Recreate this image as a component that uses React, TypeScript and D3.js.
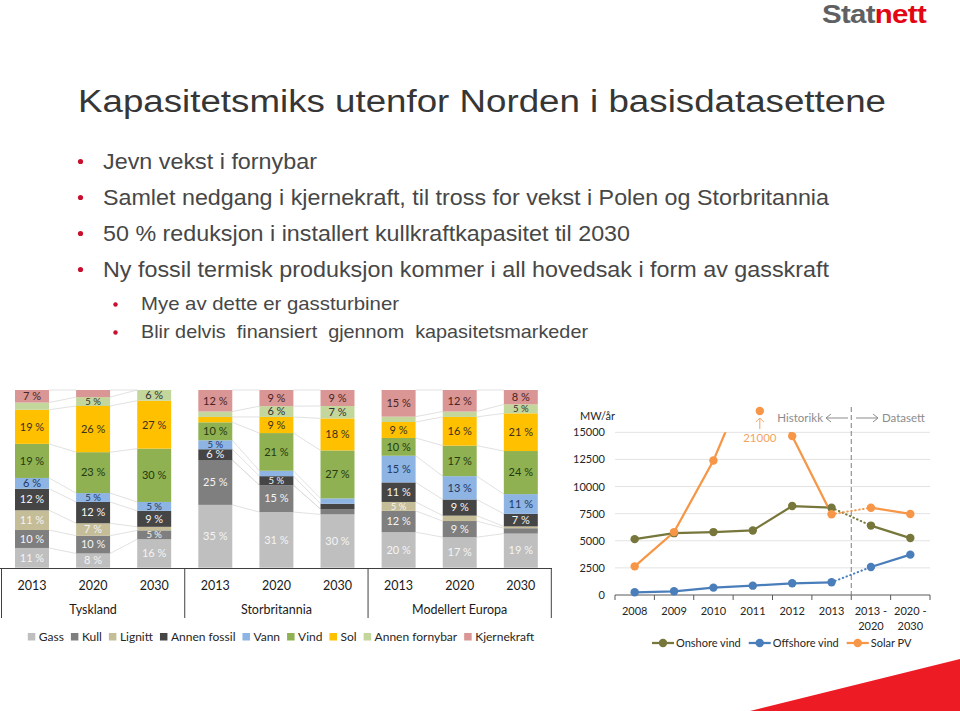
import React, { useEffect, useRef } from "react";
import * as d3 from "d3";

const W = 960;
const H = 711;

// ---------- Data: stacked capacity mix ----------
const sources = ["Gass", "Kull", "Lignitt", "Annen fossil", "Vann", "Vind", "Sol", "Annen fornybar", "Kjernekraft"];
const regions = ["Tyskland", "Storbritannia", "Modellert Europa"];
const years = ["2013", "2020", "2030"];
// order of bars: Tyskland 2013/2020/2030, Storbritannia 2013/2020/2030, Modellert Europa 2013/2020/2030
const gass = [11, 8, 16, 35, 31, 30, 20, 17, 19];
const kull = [10, 10, 5, 25, 15, 3, 12, 9, 3];
const lignitt = [11, 7, 2, 0, 0, 0, 5, 3, 1];
const annenFossil = [12, 12, 9, 6, 5, 3, 11, 9, 7];
const vann = [6, 5, 5, 5, 3, 3, 15, 13, 11];
const vind = [19, 23, 30, 10, 21, 27, 10, 17, 24];
const sol = [19, 26, 27, 3, 9, 18, 9, 16, 21];
const annenFornybar = [4, 5, 6, 3, 6, 7, 3, 3, 5];
const kjernekraft = [7, 4, 0, 12, 9, 9, 15, 12, 8];

const sourceColors = ["#bfbfbf", "#7f7f7f", "#c4bd97", "#454545", "#8db4e2", "#8fb151", "#ffc000", "#c3d69b", "#d99694"];
const labelColors = ["#f4f4f4", "#f4f4f4", "#f4f4f4", "#f4f4f4", "#1f3864", "#233a12", "#3a3020", "#333333", "#4a2323"];

// ---------- Data: annual capacity additions ----------
const periods = ["2008", "2009", "2010", "2011", "2012", "2013", "2013 -|2020", "2020 -|2030"];
const onshoreVind = [5150, 5700, 5800, 5950, 8200, 8050, 6400, 5250];
const offshoreVind = [250, 340, 680, 860, 1080, 1170, 2580, 3720];
const solarPV = [2640, 5800, 12400, 21000, 14650, 7450, 8050, 7470];
const lineSeriesNames = ["Onshore vind", "Offshore vind", "Solar PV"];
const lineColors = ["#77773c", "#4a7ebb", "#f79646"];
const yTicks = [0, 2500, 5000, 7500, 10000, 12500, 15000];

// ---------- Text ----------
const title = "Kapasitetsmiks utenfor Norden i basisdatasettene";
const bullets = [
  "Jevn vekst i fornybar",
  "Samlet nedgang i kjernekraft, til tross for vekst i Polen og Storbritannia",
  "50 % reduksjon i installert kullkraftkapasitet til 2030",
  "Ny fossil termisk produksjon kommer i all hovedsak i form av gasskraft",
];
const subBullets = ["Mye av dette er gassturbiner", "Blir delvis  finansiert  gjennom  kapasitetsmarkeder"];

const CHART_FONT = "Lato, 'Open Sans', sans-serif";
const SLIDE_FONT = "'Liberation Sans', Arial, sans-serif";

export default function App() {
  const ref = useRef<SVGSVGElement | null>(null);

  useEffect(() => {
    const svg = d3.select(ref.current);
    svg.selectAll("*").remove();

    // ---------- Slide header ----------
    const logo = svg.append("text").attr("x", 822).attr("y", 23)
      .attr("font-family", SLIDE_FONT).attr("font-weight", "bold").attr("font-size", 25)
      .attr("letter-spacing", -0.6).attr("textLength", 104).attr("lengthAdjust", "spacingAndGlyphs");
    logo.append("tspan").attr("fill", "#5f6062").text("Stat");
    logo.append("tspan").attr("fill", "#e30613").text("nett");

    svg.append("text").attr("x", 78).attr("y", 112).attr("font-family", SLIDE_FONT)
      .attr("font-size", 31).attr("fill", "#363636")
      .attr("textLength", 808).attr("lengthAdjust", "spacingAndGlyphs").text(title);

    const bulletWidths = [214, 726, 527, 726];
    const bulletY = [169, 205, 241, 277];
    bullets.forEach((b, i) => {
      svg.append("circle").attr("cx", 80.5).attr("cy", bulletY[i] - 7.5).attr("r", 2.6).attr("fill", "#c8102e");
      svg.append("text").attr("x", 103).attr("y", bulletY[i]).attr("font-family", SLIDE_FONT)
        .attr("font-size", 21.5).attr("fill", "#474747")
        .attr("textLength", bulletWidths[i]).attr("lengthAdjust", "spacingAndGlyphs").text(b);
    });
    const subWidths = [258, 447];
    const subY = [310, 338];
    subBullets.forEach((b, i) => {
      svg.append("circle").attr("cx", 115.5).attr("cy", subY[i] - 5.5).attr("r", 2.2).attr("fill", "#c8102e");
      svg.append("text").attr("x", 141).attr("y", subY[i]).attr("font-family", SLIDE_FONT)
        .attr("font-size", 18.5).attr("fill", "#474747").attr("xml:space", "preserve")
        .attr("textLength", subWidths[i]).attr("lengthAdjust", "spacingAndGlyphs").text(b);
    });

    // red corner
    svg.append("path").attr("d", "M750,711 L960,659 L960,711 Z").attr("fill", "#ed1c24");

    // ---------- Stacked bar chart ----------
    const seriesValues = [gass, kull, lignitt, annenFossil, vann, vind, sol, annenFornybar, kjernekraft];
    const barKeys: string[] = [];
    regions.forEach((r) => years.forEach((y) => barKeys.push(r + "|" + y)));
    const table = barKeys.map((k, i) => {
      const row: any = { key: k };
      sources.forEach((s, j) => (row[s] = seriesValues[j][i]));
      return row;
    });
    const stacked = d3.stack().keys(sources).offset(d3.stackOffsetExpand)(table as any);

    const xb = d3.scaleBand().domain(barKeys).range([1.5, 551.3]).paddingInner(0.444).paddingOuter(0.221);
    const yb = d3.scaleLinear().domain([0, 1]).range([567.7, 390]);
    const bw = xb.bandwidth();

    const gBars = svg.append("g");
    // series lines
    stacked.forEach((layer) => {
      for (let i = 0; i < barKeys.length - 1; i++) {
        if (Math.floor(i / 3) !== Math.floor((i + 1) / 3)) continue;
        const y1 = yb(layer[i][1]);
        const y2 = yb(layer[i + 1][1]);
        gBars.append("line")
          .attr("x1", (xb(barKeys[i]) as number) + bw).attr("y1", y1)
          .attr("x2", xb(barKeys[i + 1]) as number).attr("y2", y2)
          .attr("stroke", "#d9d9d9").attr("stroke-width", 0.8);
      }
    });
    stacked.forEach((layer, si) => {
      layer.forEach((d, i) => {
        const h = yb(d[0]) - yb(d[1]);
        if (h <= 0) return;
        gBars.append("rect").attr("x", xb(barKeys[i]) as number).attr("y", yb(d[1]))
          .attr("width", bw).attr("height", h).attr("fill", sourceColors[si]);
      });
    });
    stacked.forEach((layer, si) => {
      layer.forEach((d, i) => {
        const v = seriesValues[si][i];
        if (v < 5) return;
        const h = yb(d[0]) - yb(d[1]);
        const fs = h < 10.5 ? 9.5 : 11;
        gBars.append("text")
          .attr("x", (xb(barKeys[i]) as number) + bw / 2)
          .attr("y", (yb(d[0]) + yb(d[1])) / 2 + fs * 0.35)
          .attr("text-anchor", "middle").attr("font-family", CHART_FONT).attr("font-size", fs)
          .attr("fill", labelColors[si]).text(v + " %");
      });
    });

    // category axis
    const axisY = 568.5;
    gBars.append("line").attr("x1", 0).attr("x2", 552).attr("y1", axisY).attr("y2", axisY)
      .attr("stroke", "#404040").attr("stroke-width", 1);
    const step = xb.step();
    const gap = step - bw;
    const dividers = [1.5, ...regions.slice(1).map((r) => (xb(r + "|" + years[0]) as number) - gap / 2), 551.3];
    dividers.forEach((x) => {
      gBars.append("line").attr("x1", x).attr("x2", x).attr("y1", axisY).attr("y2", 618)
        .attr("stroke", "#404040").attr("stroke-width", 1);
    });
    barKeys.forEach((k) => {
      gBars.append("text").attr("x", (xb(k) as number) + bw / 2).attr("y", 589.5)
        .attr("text-anchor", "middle").attr("font-family", CHART_FONT).attr("font-size", 12.5)
        .attr("fill", "#1a1a1a").text(k.split("|")[1]);
    });
    regions.forEach((r, i) => {
      gBars.append("text").attr("x", (dividers[i] + dividers[i + 1]) / 2).attr("y", 613.5)
        .attr("text-anchor", "middle").attr("font-family", CHART_FONT).attr("font-size", 12.5)
        .attr("fill", "#1a1a1a").text(r);
    });

    // legend
    const legend = gBars.append("g");
    let lx = 0;
    sources.forEach((s, i) => {
      const g = legend.append("g").attr("transform", `translate(${lx},0)`);
      g.append("rect").attr("x", 0).attr("y", -4).attr("width", 7.5).attr("height", 7.5).attr("fill", sourceColors[i]);
      const t = g.append("text").attr("x", 11).attr("y", 4).attr("font-family", CHART_FONT)
        .attr("font-size", 12).attr("fill", "#262626").text(s);
      const tw = (t.node() as SVGTextElement).getComputedTextLength();
      lx += 11 + tw + 7;
    });
    const legendWidth = lx - 7;
    legend.attr("transform", `translate(${281 - legendWidth / 2},637)`);

    // ---------- Line chart ----------
    const xl = d3.scaleBand().domain(periods).range([615, 930]);
    const yl = d3.scaleLinear().domain([0, 15000]).range([595, 432.3]);
    const cx = (p: string) => (xl(p) as number) + xl.bandwidth() / 2;
    const gL = svg.append("g");

    yTicks.forEach((t) => {
      if (t > 0) {
        gL.append("line").attr("x1", 615).attr("x2", 930).attr("y1", yl(t)).attr("y2", yl(t))
          .attr("stroke", "#e3e3e3").attr("stroke-width", 1);
      }
      gL.append("text").attr("x", 605).attr("y", yl(t) + 4).attr("text-anchor", "end")
        .attr("font-family", CHART_FONT).attr("font-size", 11).attr("fill", "#262626").text(t);
    });
    gL.append("text").attr("x", 580).attr("y", 420).attr("font-family", CHART_FONT)
      .attr("font-size", 11).attr("fill", "#262626").text("MW/år");

    gL.append("line").attr("x1", 615).attr("x2", 930).attr("y1", yl(0)).attr("y2", yl(0))
      .attr("stroke", "#595959").attr("stroke-width", 1);
    for (let i = 0; i <= periods.length; i++) {
      const x = 615 + i * xl.step();
      gL.append("line").attr("x1", x).attr("x2", x).attr("y1", yl(0)).attr("y2", yl(0) + 5)
        .attr("stroke", "#595959").attr("stroke-width", 1);
    }
    periods.forEach((p) => {
      const parts = p.split("|");
      parts.forEach((s, j) => {
        gL.append("text").attr("x", cx(p)).attr("y", 615 + j * 14.5).attr("text-anchor", "middle")
          .attr("font-family", CHART_FONT).attr("font-size", 11).attr("fill", "#262626").text(s);
      });
    });

    // separator
    const sepX = 615 + 6 * xl.step();
    gL.append("line").attr("x1", sepX).attr("x2", sepX).attr("y1", 407).attr("y2", 598)
      .attr("stroke", "#7f7f7f").attr("stroke-width", 1).attr("stroke-dasharray", "5,3");
    const annFont = 11.5;
    gL.append("text").attr("x", 823).attr("y", 422).attr("text-anchor", "end").attr("font-family", CHART_FONT)
      .attr("font-size", annFont).attr("fill", "#8c8c8c").text("Historikk");
    gL.append("path").attr("d", `M826,418 L848,418 M831,414 L826,418 L831,422`).attr("fill", "none")
      .attr("stroke", "#8c8c8c").attr("stroke-width", 1);
    gL.append("path").attr("d", `M856,418 L878,418 M873,414 L878,418 L873,422`).attr("fill", "none")
      .attr("stroke", "#8c8c8c").attr("stroke-width", 1);
    gL.append("text").attr("x", 882).attr("y", 422).attr("font-family", CHART_FONT)
      .attr("font-size", annFont).attr("fill", "#8c8c8c").text("Datasett");

    // clip to plot area
    svg.append("defs").append("clipPath").attr("id", "plotClip")
      .append("rect").attr("x", 600).attr("y", yl(15000)).attr("width", 350).attr("height", 200);

    const allSeries = [onshoreVind, offshoreVind, solarPV];
    const lineGen = d3.line<number>().x((_, i) => cx(periods[i])).y((d) => yl(d));
    const gLines = gL.append("g").attr("clip-path", "url(#plotClip)");
    allSeries.forEach((vals, si) => {
      const hist = vals.slice(0, 6);
      gLines.append("path").attr("d", lineGen(hist))
        .attr("fill", "none").attr("stroke", lineColors[si]).attr("stroke-width", 2.25);
      gLines.append("path")
        .attr("d", `M${cx(periods[5])},${yl(vals[5])} L${cx(periods[6])},${yl(vals[6])}`)
        .attr("fill", "none").attr("stroke", lineColors[si]).attr("stroke-width", 2)
        .attr("stroke-dasharray", "0.5,3.5").attr("stroke-linecap", "round");
      gLines.append("path")
        .attr("d", `M${cx(periods[6])},${yl(vals[6])} L${cx(periods[7])},${yl(vals[7])}`)
        .attr("fill", "none").attr("stroke", lineColors[si]).attr("stroke-width", 2.25);
    });
    allSeries.forEach((vals, si) => {
      vals.forEach((v, i) => {
        if (v > 15000) return;
        gL.append("circle").attr("cx", cx(periods[i])).attr("cy", yl(v)).attr("r", 4.2)
          .attr("fill", lineColors[si]);
      });
    });
    // off-scale annotation for solar
    const peakIdx = solarPV.findIndex((v) => v > 15000);
    const ax = cx(periods[peakIdx]) + 7;
    gL.append("circle").attr("cx", ax).attr("cy", 411).attr("r", 4.2).attr("fill", lineColors[2]);
    gL.append("path").attr("d", `M${ax},429 L${ax},418 M${ax - 4},422 L${ax},418 L${ax + 4},422`)
      .attr("fill", "none").attr("stroke", "#f4a460").attr("stroke-width", 1);
    gL.append("text").attr("x", ax).attr("y", 442).attr("text-anchor", "middle").attr("font-family", CHART_FONT)
      .attr("font-size", 11.5).attr("fill", "#f4a460").text(d3.format("d")(solarPV[peakIdx]));

    // legend
    const lg = gL.append("g").attr("transform", "translate(652,643)");
    let llx = 0;
    lineSeriesNames.forEach((n, i) => {
      const g = lg.append("g").attr("transform", `translate(${llx},0)`);
      g.append("line").attr("x1", 0).attr("x2", 22).attr("y1", 0).attr("y2", 0)
        .attr("stroke", lineColors[i]).attr("stroke-width", 2.25);
      g.append("circle").attr("cx", 11).attr("cy", 0).attr("r", 4.2).attr("fill", lineColors[i]);
      const t = g.append("text").attr("x", 24).attr("y", 4).attr("font-family", CHART_FONT)
        .attr("font-size", 11).attr("fill", "#262626").text(n);
      llx += 24 + (t.node() as SVGTextElement).getComputedTextLength() + 8;
    });
  }, []);

  return (
    <svg
      ref={ref}
      width={W}
      height={H}
      viewBox={`0 0 ${W} ${H}`}
      style={{ position: "absolute", left: 0, top: 0, background: "#fff" }}
    />
  );
}
